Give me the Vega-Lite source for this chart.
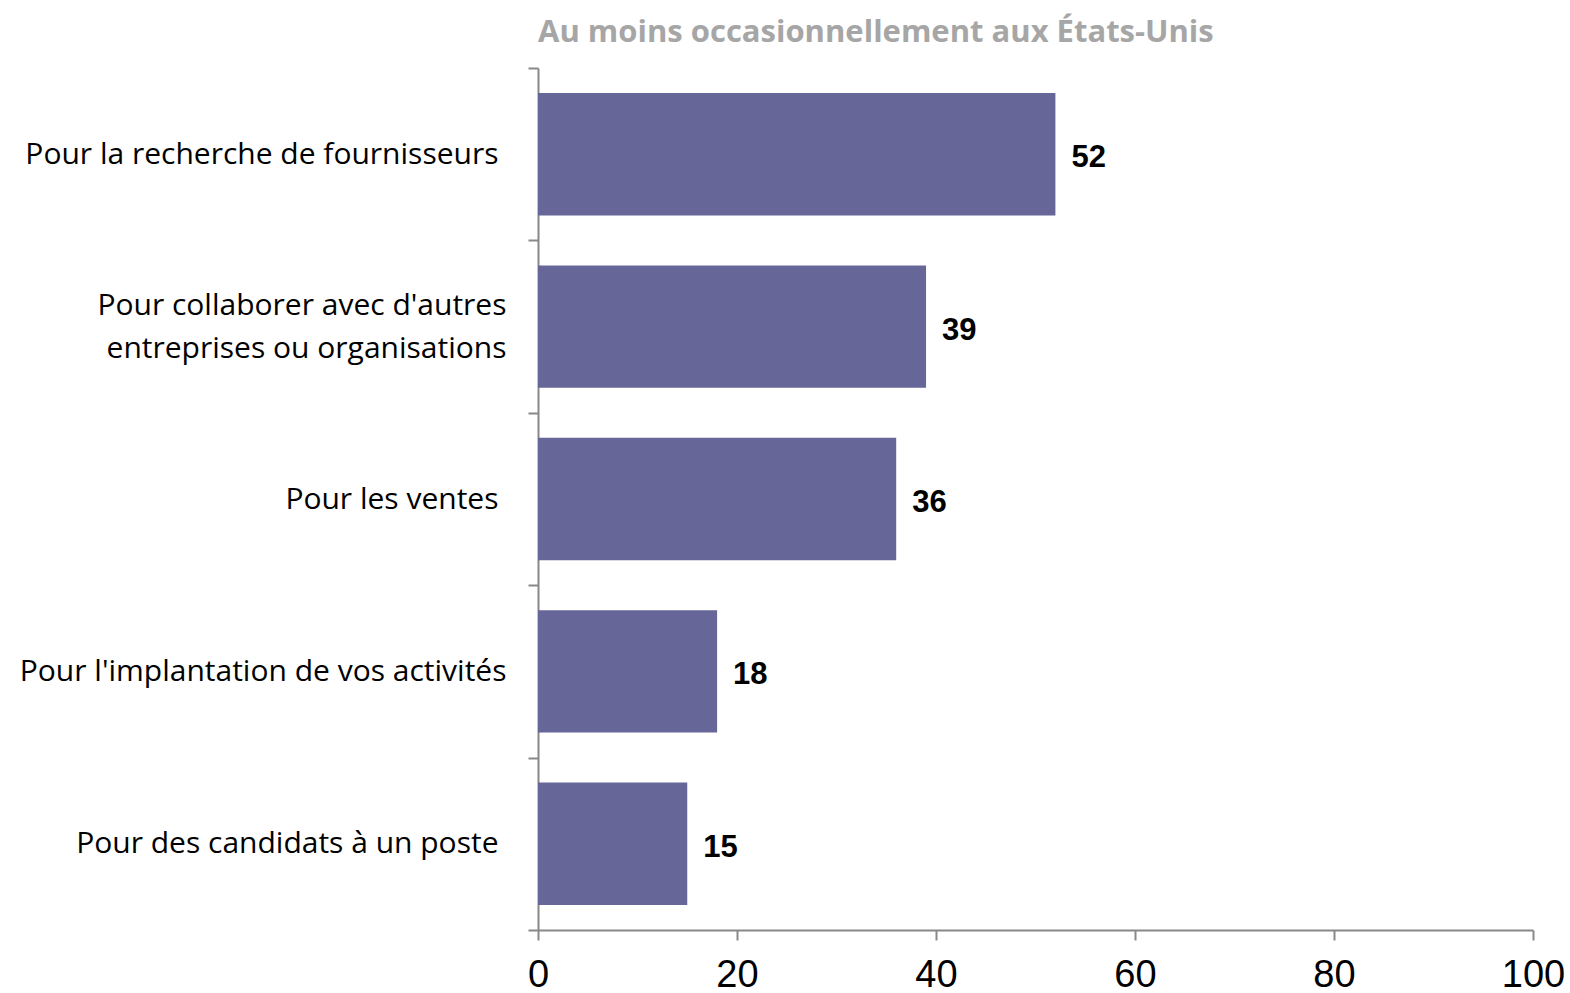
{
  "$schema": "https://vega.github.io/schema/vega-lite/v6.json",
  "autosize": "none",
  "width": 995,
  "height": 862,
  "padding": {"left": 538, "top": 68, "right": 37, "bottom": 63},
  "background": "white",
  "title": {
    "text": "Au moins occasionnellement aux États-Unis",
    "anchor": "start",
    "frame": "group",
    "font": "Open Sans",
    "fontSize": 31,
    "fontWeight": "bold",
    "color": "#A6A6A6",
    "offset": 4
  },
  "config": {"view": {"stroke": null}},
  "data": {
    "values": [
      {"categorie": "Pour la recherche de fournisseurs", "valeur": 52},
      {"categorie": "Pour collaborer avec d'autres|entreprises ou organisations", "valeur": 39},
      {"categorie": "Pour les ventes", "valeur": 36},
      {"categorie": "Pour l'implantation de vos activités", "valeur": 18},
      {"categorie": "Pour des candidats à un poste", "valeur": 15}
    ]
  },
  "encoding": {
    "y": {
      "field": "categorie",
      "type": "nominal",
      "sort": null,
      "scale": {"paddingInner": 0, "paddingOuter": 0},
      "axis": {
        "title": null,
        "tickBand": "extent",
        "domainColor": "#888888",
        "domainWidth": 2,
        "tickColor": "#888888",
        "tickWidth": 2,
        "tickSize": 10,
        "labelPadding": {
          "condition": {"test": "isString(datum.value) && (indexof(datum.value, '|') >= 0 || indexof(datum.value, 'implantation') >= 0)", "value": 22},
          "value": 30
        },
        "labelOffset": {
          "condition": {"test": "isString(datum.value) && indexof(datum.value, '|') >= 0", "value": -21},
          "value": 0
        },
        "labelFont": "Open Sans",
        "labelFontSize": 30,
        "labelColor": "black",
        "labelLimit": 600,
        "labelLineHeight": 43,
        "labelExpr": "split(datum.label, '|')"
      }
    },
    "x": {
      "field": "valeur",
      "type": "quantitative",
      "scale": {"domain": [0, 100], "nice": false},
      "axis": {
        "title": null,
        "values": [0, 20, 40, 60, 80, 100],
        "grid": false,
        "domainColor": "#888888",
        "domainWidth": 2,
        "tickColor": "#888888",
        "tickWidth": 2,
        "tickSize": 10,
        "labelPadding": 16,
        "labelFont": "Liberation Sans",
        "labelFontSize": 38,
        "labelColor": "black",
        "labelFlush": false
      }
    }
  },
  "layer": [
    {
      "mark": {"type": "bar", "color": "#666699", "height": {"band": 0.71}}
    },
    {
      "mark": {
        "type": "text",
        "align": "left",
        "baseline": "middle",
        "dx": 16,
        "dy": 4,
        "font": "Liberation Sans",
        "fontSize": 31,
        "fontWeight": "bold",
        "color": "black"
      },
      "encoding": {"text": {"field": "valeur", "type": "quantitative"}}
    }
  ]
}
